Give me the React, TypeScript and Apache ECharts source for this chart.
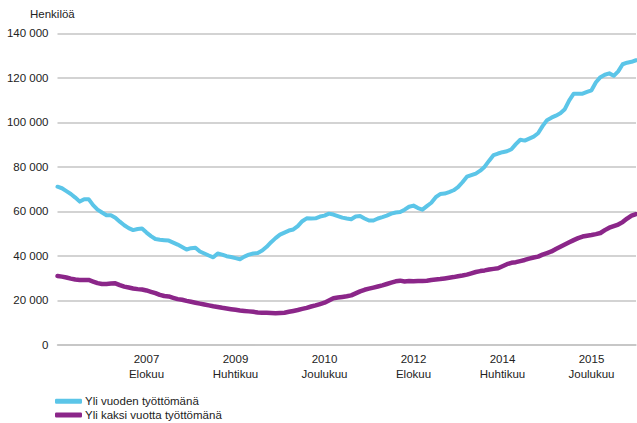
import React, { useEffect, useRef } from "react";
import * as echarts from "echarts";

// Monthly categories: December 2005 … October 2016
const startYear = 2005;
const startMonth = 12;
const monthCount = 131;
const months: string[] = [];
for (let i = 0; i < monthCount; i++) {
  const m0 = startMonth - 1 + i;
  const y = startYear + Math.floor(m0 / 12);
  const m = (m0 % 12) + 1;
  months.push(`${y}-${m < 10 ? "0" + m : m}`);
}

// Axis tick labels (category -> label)
const tickMonths = ["2007-08", "2009-04", "2010-12", "2012-08", "2014-04", "2015-12"];
const tickLabels = ["2007\nElokuu", "2009\nHuhtikuu", "2010\nJoulukuu", "2012\nElokuu", "2014\nHuhtikuu", "2015\nJoulukuu"];

// Values in thousands of persons
const yliVuoden = [
  71.1, 70.4, 69.1, 67.8, 66.2, 64.4, 65.5, 65.5, 62.8, 60.8,
  59.5, 58.3, 58.3, 57.2, 55.4, 53.8, 52.5, 51.6, 52.1, 52.3,
  50.5, 48.9, 47.6, 47.3, 47.1, 46.9, 46.0, 45.1, 44.0, 42.9,
  43.5, 43.7, 42.0, 41.1, 40.2, 39.4, 41.1, 40.6, 39.9, 39.5,
  39.0, 38.5, 39.7, 40.6, 41.1, 41.3, 42.4, 44.1, 46.2, 48.0,
  49.6, 50.5, 51.4, 51.9, 53.4, 55.6, 56.9, 56.8, 56.9, 57.7,
  58.1, 59.0, 58.6, 57.9, 57.2, 56.8, 56.5, 57.7, 57.9, 56.8,
  55.9, 55.9, 56.8, 57.4, 58.1, 59.0, 59.5, 59.7, 60.8, 62.1,
  62.6, 61.5, 60.8, 62.4, 63.9, 66.4, 67.8, 68.0, 68.7, 69.5,
  70.9, 73.1, 75.6, 76.3, 77.0, 78.3, 80.1, 82.8, 85.3, 86.0,
  86.6, 87.0, 87.9, 90.2, 92.2, 91.8, 92.7, 93.6, 95.1, 98.3,
  101.0, 102.1, 103.0, 104.1, 105.9, 109.9, 112.9, 112.9, 112.9, 113.7,
  114.4, 118.0, 120.3, 121.4, 122.0, 120.9, 122.9, 126.1, 126.8, 127.2,
  127.9,
];
const yliKaksi = [
  31.0, 30.7, 30.3, 29.8, 29.4, 29.2, 29.2, 29.2, 28.5, 27.8,
  27.4, 27.4, 27.6, 27.7, 26.9, 26.2, 25.8, 25.4, 25.1, 24.9,
  24.5, 23.9, 23.3, 22.5, 22.0, 21.8, 21.2, 20.6, 20.3, 19.8,
  19.4, 19.0, 18.6, 18.2, 17.8, 17.4, 17.1, 16.7, 16.4, 16.1,
  15.8, 15.5, 15.3, 15.1, 14.9, 14.6, 14.5, 14.5, 14.4, 14.3,
  14.4, 14.5, 14.9, 15.3, 15.7, 16.2, 16.7, 17.3, 17.8, 18.4,
  19.0, 20.0, 21.0, 21.3, 21.6, 21.9, 22.3, 23.2, 24.1, 24.8,
  25.3, 25.8, 26.3, 26.8, 27.4, 28.0, 28.6, 28.9, 28.5, 28.7,
  28.6, 28.7, 28.8, 28.9, 29.2, 29.4, 29.6, 29.9, 30.2, 30.5,
  30.9, 31.2, 31.6, 32.2, 32.8, 33.2, 33.5, 33.9, 34.2, 34.5,
  35.4, 36.3, 36.9, 37.2, 37.7, 38.2, 38.8, 39.3, 39.7, 40.6,
  41.3, 42.0, 43.1, 44.1, 45.1, 46.1, 47.1, 48.0, 48.7, 49.1,
  49.4, 49.8, 50.3, 51.6, 52.7, 53.4, 54.1, 55.2, 56.8, 58.1,
  58.8,
];

const seriesNames = ["Yli vuoden työttömänä", "Yli kaksi vuotta työttömänä"];
const seriesColors = ["#5bc5e8", "#8b2689"];

const FONT = "Liberation Sans, Arial, sans-serif";
const FS = 11.5;

function fmtThousands(v: number): string {
  return String(Math.round(v)).replace(/\B(?=(\d{3})+(?!\d))/g, " ");
}

export default function App() {
  const ref = useRef<HTMLDivElement>(null);
  useEffect(() => {
    if (!ref.current) return;
    const chart = echarts.init(ref.current, undefined, { renderer: "svg" });
    const tickMap: Record<string, string> = {};
    tickMonths.forEach((m, i) => (tickMap[m] = tickLabels[i]));
    chart.setOption({
      animation: false,
      textStyle: { fontFamily: FONT },
      grid: { left: 57.5, right: 1, top: 33.3, bottom: 78, containLabel: false },
      graphic: [
        {
          type: "text",
          left: 30,
          top: 8,
          style: { text: "Henkilöä", font: `${FS}px ${FONT}`, fill: "#222" },
        },
      ],
      legend: {
        orient: "vertical",
        left: 55,
        top: 394.5,
        itemWidth: 27,
        itemHeight: 5,
        itemGap: 0,
        icon: "roundRect",
        padding: 0,
        textStyle: { fontSize: FS, color: "#222", fontFamily: FONT, lineHeight: 13.6, padding: [0, 0, 0, -2] },
        data: seriesNames,
      },
      xAxis: {
        type: "category",
        data: months,
        boundaryGap: false,
        axisLine: { show: true, lineStyle: { color: "#c4c4c4", width: 1.5 } },
        axisTick: { show: false },
        splitLine: { show: false },
        axisLabel: {
          interval: (_idx: number, val: string) => tickMap[val] !== undefined,
          formatter: (val: string) => tickMap[val] || "",
          fontSize: FS,
          color: "#222",
          lineHeight: 15,
          margin: 6,
          fontFamily: FONT,
        },
      },
      yAxis: {
        type: "value",
        min: 0,
        max: 140000,
        interval: 20000,
        axisLine: { show: false },
        axisTick: { show: false },
        splitLine: { lineStyle: { color: "#c4c4c4", width: 1.5 } },
        axisLabel: {
          formatter: (v: number) => fmtThousands(v),
          fontSize: FS,
          color: "#222",
          margin: 9,
          fontFamily: FONT,
        },
      },
      series: [
        {
          name: seriesNames[0],
          type: "line",
          data: yliVuoden.map((v) => v * 1000),
          showSymbol: false,
          symbol: "none",
          lineStyle: { width: 4, color: seriesColors[0], cap: "round", join: "round" },
          itemStyle: { color: seriesColors[0] },
        },
        {
          name: seriesNames[1],
          type: "line",
          data: yliKaksi.map((v) => v * 1000),
          showSymbol: false,
          symbol: "none",
          lineStyle: { width: 4.5, color: seriesColors[1], cap: "round", join: "round" },
          itemStyle: { color: seriesColors[1] },
        },
      ],
    });
    return () => chart.dispose();
  }, []);
  return <div ref={ref} style={{ width: 637, height: 423, position: "absolute", left: 0, top: 0 }} />;
}
